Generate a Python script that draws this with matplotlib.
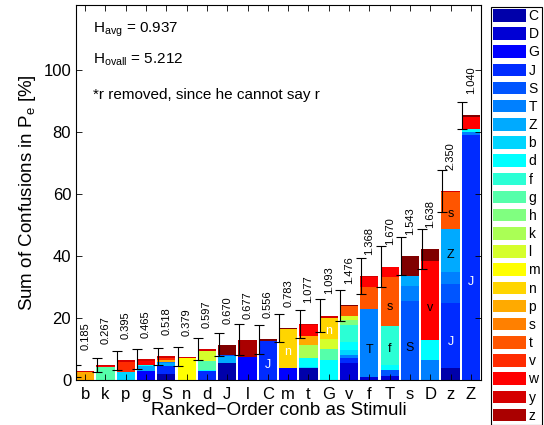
import numpy as np
import matplotlib
matplotlib.use("Agg")
import matplotlib.pyplot as plt
from matplotlib.patches import Patch

plt.rcParams['font.family'] = ['Liberation Sans', 'DejaVu Sans']
plt.rcParams['mathtext.fontset'] = 'custom'
plt.rcParams['mathtext.rm'] = 'Liberation Sans'
plt.rcParams['mathtext.it'] = 'Liberation Sans'

# ---------------- data ----------------
stimuli = ["b", "k", "p", "g", "S", "n", "d", "J", "l", "C",
           "m", "t", "G", "v", "f", "T", "s", "D", "z", "Z"]
entropy = ["0.185", "0.267", "0.395", "0.465", "0.518", "0.379", "0.597", "0.670", "0.677", "0.556",
           "0.783", "1.077", "1.093", "1.476", "1.368", "1.670", "1.543", "1.638", "2.350", "1.040"]
errors = [2.0, 2.2, 3.1, 3.3, 2.6, 3.0, 3.5, 3.8, 5.0, 4.6,
          4.6, 4.6, 5.2, 5.0, 5.8, 6.5, 6.2, 6.5, 6.7, 4.4]

# confusions per stimulus, bottom to top: (response, percent)
conf_b = [("p", 2.5), ("w", 0.4)]
conf_k = [("g", 4.3), ("v", 0.25), ("w", 0.35)]
conf_p = [("b", 2.7), ("t", 3.2), ("w", 0.4)]
conf_g = [("G", 3.0), ("Z", 1.4), ("d", 0.5), ("v", 1.2), ("w", 0.7)]
conf_S = [("C", 1.9), ("J", 2.7), ("Z", 0.8), ("T", 0.4), ("p", 0.8), ("t", 0.5), ("w", 0.5)]
conf_n = [("m", 7.0), ("v", 0.2), ("w", 0.3)]
conf_d = [("J", 2.8), ("d", 0.3), ("g", 2.9), ("l", 3.2), ("v", 0.3), ("w", 0.4)]
conf_J = [("C", 5.4), ("Z", 2.3), ("S", 0.3), ("v", 0.2), ("z", 3.2)]
conf_l = [("G", 7.3), ("v", 0.2), ("y", 5.5)]
conf_C = [("J", 12.5), ("z", 0.6)]
conf_m = [("G", 4.0), ("n", 12.3), ("z", 0.5)]
conf_t = [("C", 4.0), ("b", 0.2), ("d", 2.8), ("k", 4.4), ("p", 2.9), ("v", 3.6), ("w", 0.2)]
conf_G = [("d", 6.5), ("g", 3.5), ("l", 3.2), ("n", 6.9), ("w", 0.7)]
conf_v = [("D", 5.4), ("J", 1.6), ("T", 1.1), ("b", 1.6), ("d", 2.7), ("f", 5.4), ("h", 1.4),
          ("l", 1.6), ("s", 3.0), ("z", 0.3)]
conf_f = [("D", 1.1), ("T", 21.7), ("s", 7.3), ("v", 3.0), ("w", 0.4)]
conf_T = [("D", 1.3), ("S", 2.0), ("d", 1.6), ("f", 12.4), ("s", 15.8), ("v", 3.5)]
conf_s = [("S", 25.5), ("T", 4.8), ("Z", 3.3), ("z", 6.5)]
conf_D = [("T", 6.5), ("d", 6.5), ("v", 25.5), ("z", 3.8)]
conf_z = [("C", 3.8), ("J", 21.1), ("S", 6.0), ("T", 3.8), ("Z", 13.9), ("s", 12.1), ("w", 0.3)]
conf_Z = [("J", 78.9), ("T", 1.2), ("d", 0.8), ("v", 3.9), ("z", 0.6)]

confusions = [conf_b, conf_k, conf_p, conf_g, conf_S, conf_n, conf_d, conf_J, conf_l, conf_C,
              conf_m, conf_t, conf_G, conf_v, conf_f, conf_T, conf_s, conf_D, conf_z, conf_Z]

# segments carrying an in-bar label: (stimulus, response, text colour)
seg_labels = [("C", "J", "white"), ("m", "n", "white"), ("G", "n", "white"),
              ("f", "T", "black"), ("T", "f", "black"), ("T", "s", "black"),
              ("s", "S", "black"), ("D", "v", "black"), ("z", "J", "white"),
              ("z", "Z", "black"), ("z", "s", "black"), ("Z", "J", "white")]

full_set = ["C", "D", "G", "J", "S", "T", "Z", "b", "d", "f", "g", "h", "k", "l",
            "m", "n", "p", "r", "s", "t", "v", "w", "y", "z"]
legend_set = [c for c in full_set if c != "r"]

texts = [r"H$_{\mathrm{avg}}$ = 0.937", r"H$_{\mathrm{ovall}}$ = 5.212",
         "*r removed, since he cannot say r"]


def matlab_jet(m):
    n = int(np.ceil(m / 4))
    u = np.concatenate([np.arange(1, n + 1) / n, np.ones(n - 1), np.arange(n, 0, -1) / n])
    g = int(np.ceil(n / 2)) - (1 if m % 4 == 1 else 0) + np.arange(1, len(u) + 1)
    r = g + n
    b = g - n
    J = np.zeros((m, 3))
    J[r[r <= m] - 1, 0] = u[r <= m]
    J[g[g <= m] - 1, 1] = u[g <= m]
    J[b[b >= 1] - 1, 2] = u[b >= 1]
    return J


bar_cmap = matlab_jet(len(full_set))
leg_cmap = matlab_jet(len(legend_set))
bar_color = {c: bar_cmap[i] for i, c in enumerate(full_set)}
leg_color = {c: leg_cmap[i] for i, c in enumerate(legend_set)}

# ---------------- plot ----------------
fig = plt.figure(figsize=(5.44, 4.25), dpi=100)
ax = fig.add_axes([76 / 544, 45 / 425, 405 / 544, 375 / 425])

x = np.arange(1, len(stimuli) + 1)
width = 0.9
totals = []
for xi, stim, segs in zip(x, stimuli, confusions):
    bottom = 0.0
    for resp, val in segs:
        ax.bar(xi, val, width=width, bottom=bottom, color=bar_color[resp], linewidth=0)
        for (s_l, r_l, tc) in seg_labels:
            if s_l == stim and r_l == resp:
                ax.text(xi, bottom + 0.4 * val, resp, ha='center', va='center',
                        fontsize=9, color=tc)
        bottom += val
    totals.append(bottom)
totals = np.array(totals)

ax.errorbar(x - 0.43, totals, yerr=errors, fmt='none', ecolor='black',
            elinewidth=0.8, capsize=3.5, capthick=0.8)

for xi, tot, lab in zip(x, totals, entropy):
    ax.text(xi, tot + 6.8, lab, rotation=90, ha='center', va='bottom', fontsize=8)

ax.text(1.4, 112, texts[0], fontsize=11, va='baseline')
ax.text(1.4, 102, texts[1], fontsize=11, va='baseline')
ax.text(1.4, 92, texts[2], fontsize=11, va='center')

ax.set_xlim(0.55, 20.5)
ax.set_ylim(0, 121)
ax.set_xticks(x)
ax.set_xticklabels(stimuli, fontsize=12)
ax.set_yticks([0, 20, 40, 60, 80, 100])
ax.tick_params(axis='y', labelsize=12)
ax.tick_params(direction='in', top=True, right=True, length=4, width=0.6)
ax.tick_params(axis='x', pad=5)
ax.set_xlabel("Ranked\u2212Order conb as Stimuli", fontsize=13.5, labelpad=0)
ax.set_ylabel(r"Sum of Confusions in P$_{\mathrm{e}}$ [%]", fontsize=13.5, labelpad=4)
for sp in ax.spines.values():
    sp.set_linewidth(0.8)

handles = [Patch(facecolor=leg_color[c], edgecolor='none', label=c) for c in legend_set]
leg = fig.legend(handles=handles, loc='upper left', bbox_to_anchor=(491 / 544, 1 - 7 / 425),
                 bbox_transform=fig.transFigure, fontsize=10, frameon=True, fancybox=False,
                 edgecolor='black', framealpha=1, borderpad=0.15, labelspacing=0.3,
                 handlelength=2.4, handleheight=1.0, handletextpad=0.15, borderaxespad=0)
leg.get_frame().set_linewidth(0.8)

fig.savefig("out.png", dpi=100)
